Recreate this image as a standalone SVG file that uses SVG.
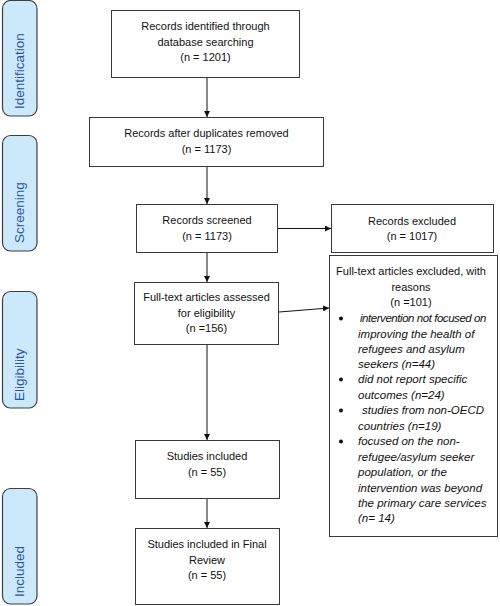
<svg xmlns="http://www.w3.org/2000/svg" width="500" height="606" viewBox="0 0 500 606">
<defs>
<marker id="ah" viewBox="0 0 10 10" refX="10" refY="5" markerWidth="6" markerHeight="6" markerUnits="userSpaceOnUse" orient="auto">
<path d="M0,0 L10,5 L0,10 z" fill="#111"/>
</marker>
</defs>
<style>
.box{fill:#fff;stroke:#3a3a3a;stroke-width:1}
.side{fill:#cce8fb;stroke:#3f3f3f;stroke-width:1.2}
.t{font-family:"Liberation Sans",Arial,sans-serif;font-size:11px;fill:#111;text-anchor:middle}
.i{font-family:"Liberation Sans",Arial,sans-serif;font-size:11.5px;font-style:italic;fill:#111}
.s{font-family:"Liberation Sans",Arial,sans-serif;font-size:13.5px;fill:#2b559b}
.c{stroke:#111;stroke-width:1;fill:none;marker-end:url(#ah)}
.b{fill:#111}
</style>
<rect width="500" height="606" fill="#fff"/>
<g id="stage-identification">
<rect class="side" x="2.5" y="0.5" width="34.5" height="115.5" rx="8"/>
<text class="s" transform="translate(23.5,109) rotate(-90)">Identification</text>
</g>
<g id="stage-screening">
<rect class="side" x="2.5" y="135.5" width="34.5" height="115.5" rx="8"/>
<text class="s" transform="translate(23.5,243) rotate(-90)">Screening</text>
</g>
<g id="stage-eligibility">
<rect class="side" x="2.5" y="291.5" width="34.5" height="116.5" rx="8"/>
<text class="s" transform="translate(23.5,401) rotate(-90)">Eligibility</text>
</g>
<g id="stage-included">
<rect class="side" x="2.5" y="488.5" width="34.5" height="115.5" rx="8"/>
<text class="s" transform="translate(23.5,597) rotate(-90)">Included</text>
</g>
<g id="connectors">
<line class="c" x1="207" y1="77" x2="207" y2="117"/>
<line class="c" x1="207" y1="166" x2="207" y2="204"/>
<line class="c" x1="207" y1="252" x2="207" y2="282"/>
<line class="c" x1="207" y1="344" x2="207" y2="440"/>
<line class="c" x1="207" y1="498" x2="207" y2="528"/>
<line class="c" x1="277" y1="228.5" x2="331" y2="228.5"/>
<line class="c" x1="279" y1="312" x2="329" y2="308"/>
</g>
<g id="n1">
<rect class="box" x="111.5" y="10.5" width="188" height="67"/>
<text class="t" x="205.5" y="30">Records identified through</text>
<text class="t" x="205.5" y="46">database searching</text>
<text class="t" x="205.5" y="61">(n = 1201)</text>
</g>
<g id="n2">
<rect class="box" x="89.5" y="117.5" width="234" height="49"/>
<text class="t" x="206.5" y="137">Records after duplicates removed</text>
<text class="t" x="206.5" y="153">(n = 1173)</text>
</g>
<g id="n3">
<rect class="box" x="136.5" y="204.5" width="141" height="48"/>
<text class="t" x="207" y="224">Records screened</text>
<text class="t" x="207" y="240">(n = 1173)</text>
</g>
<g id="n4">
<rect class="box" x="331.5" y="204.5" width="162" height="48"/>
<text class="t" x="412" y="225">Records excluded</text>
<text class="t" x="412" y="240">(n = 1017)</text>
</g>
<g id="n5">
<rect class="box" x="134.5" y="282.5" width="144" height="62"/>
<text class="t" x="206.5" y="301">Full-text articles assessed</text>
<text class="t" x="206.5" y="317">for eligibility</text>
<text class="t" x="206.5" y="332">(n =156)</text>
</g>
<g id="n6">
<rect class="box" x="329.5" y="255.5" width="168" height="281"/>
<text class="t" x="411" y="275">Full-text articles excluded, with</text>
<text class="t" x="411" y="290.5">reasons</text>
<text class="t" x="411" y="306">(n =101)</text>
<circle class="b" cx="341" cy="318.5" r="2"/>
<circle class="b" cx="341" cy="379.5" r="2"/>
<circle class="b" cx="341" cy="410.5" r="2"/>
<circle class="b" cx="341" cy="441.5" r="2"/>
<text class="i" x="360" y="322" letter-spacing="-0.45">intervention not focused on</text>
<text class="i" x="358" y="337.5">improving the health of</text>
<text class="i" x="358" y="353">refugees and asylum</text>
<text class="i" x="358" y="368">seekers (n=44)</text>
<text class="i" x="358" y="383">did not report specific</text>
<text class="i" x="358" y="398.5">outcomes (n=24)</text>
<text class="i" x="362" y="414">studies from non-OECD</text>
<text class="i" x="358" y="429.5">countries (n=19)</text>
<text class="i" x="358" y="445">focused on the non-</text>
<text class="i" x="358" y="460.5">refugee/asylum seeker</text>
<text class="i" x="358" y="476">population, or the</text>
<text class="i" x="358" y="491.5">intervention was beyond</text>
<text class="i" x="358" y="507">the primary care services</text>
<text class="i" x="358" y="522">(n= 14)</text>
</g>
<g id="n7">
<rect class="box" x="135.5" y="440.5" width="144" height="58"/>
<text class="t" x="207" y="460">Studies included</text>
<text class="t" x="207" y="476">(n = 55)</text>
</g>
<g id="n8">
<rect class="box" x="135.5" y="528.5" width="144" height="76"/>
<text class="t" x="207" y="548">Studies included in Final</text>
<text class="t" x="207" y="564">Review</text>
<text class="t" x="207" y="579">(n = 55)</text>
</g>
</svg>
